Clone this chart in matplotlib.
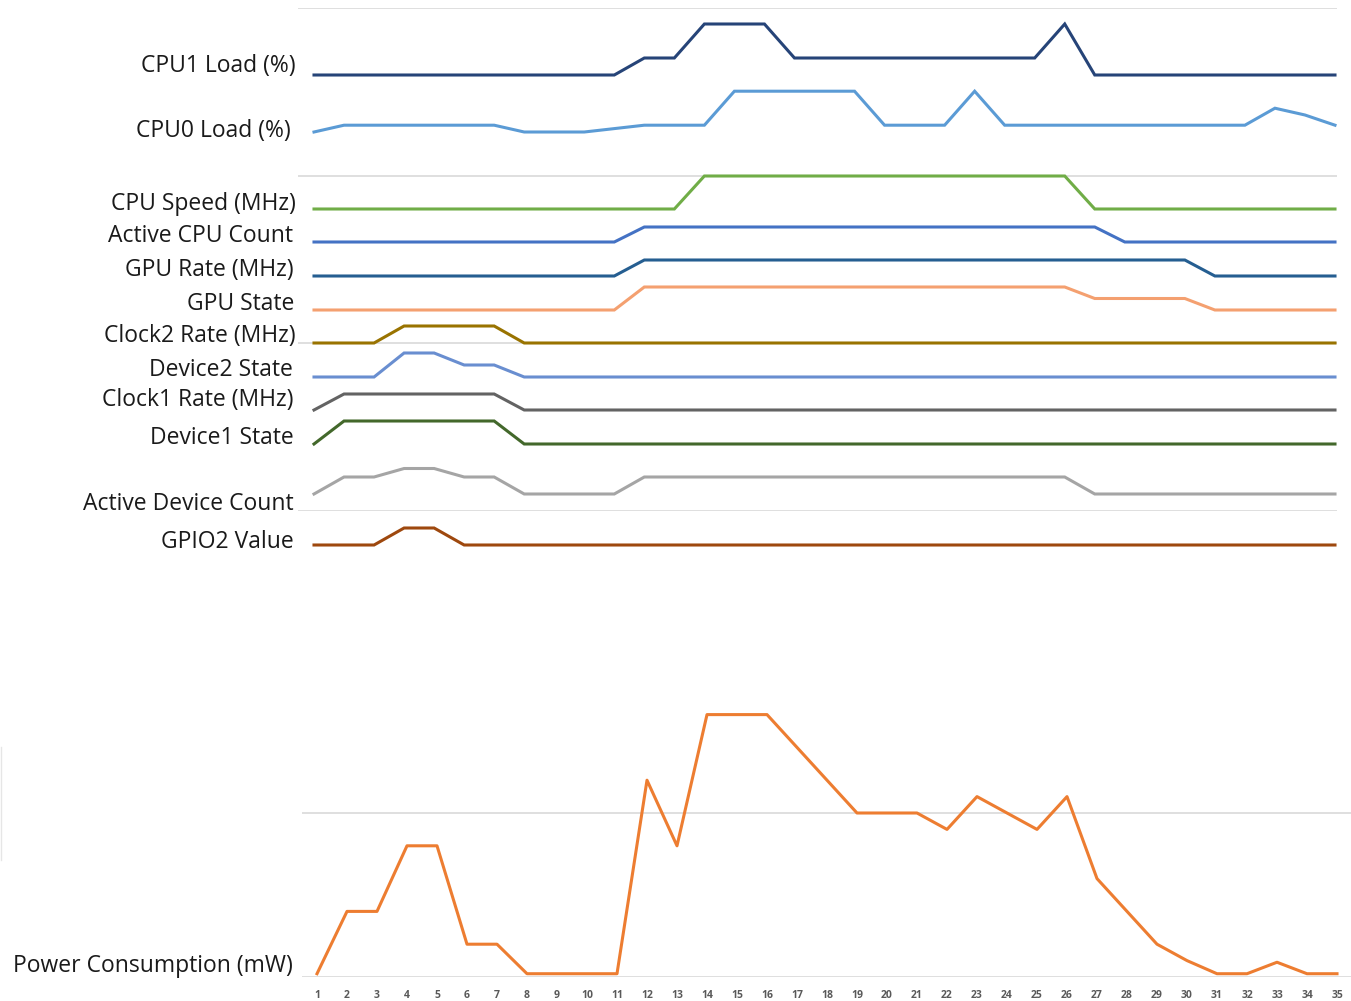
import numpy as np
import matplotlib
matplotlib.use("Agg")
import matplotlib.pyplot as plt
from matplotlib.lines import Line2D

plt.rcParams['font.family'] = ['Open Sans', 'DejaVu Sans']

# sample index 1..35
samples = np.arange(1, 36)

# signal traces (relative levels)
cpu1_load = [0]*11 + [25, 25, 75, 75, 75] + [25]*9 + [75] + [0]*9
cpu0_load = [0] + [10]*6 + [0]*3 + [5, 10, 10, 10] + [60]*5 + [10]*3 + [60] + [10]*9 + [35, 25, 10]
cpu_speed = [0]*13 + [1]*13 + [0]*9
active_cpu_count = [1]*11 + [2]*16 + [1]*8
gpu_rate = [0]*11 + [1]*19 + [0]*5
gpu_state = [0]*11 + [2]*15 + [1]*4 + [0]*5
clock2_rate = [0]*3 + [1]*4 + [0]*28
device2_state = [0]*3 + [2, 2, 1, 1] + [0]*28
clock1_rate = [0] + [1]*6 + [0]*28
device1_state = [0] + [1]*6 + [0]*28
active_device_count = [1, 3, 3, 4, 4, 3, 3] + [1]*4 + [3]*15 + [1]*9
gpio2_value = [0]*3 + [1, 1] + [0]*30

power_mw = [2, 40, 40, 80, 80, 20, 20, 2, 2, 2, 2, 120, 80, 160, 160, 160,
            140, 120, 100, 100, 100, 90, 110, 100, 90, 110, 60, 40, 20, 10,
            2, 2, 9, 2, 2]

# label, values, baseline row, pixels per unit, colour, label row, label right edge
signals = [
    ("CPU1 Load (%)", cpu1_load, 75, 0.68, "#264478", 64, 296),
    ("CPU0 Load (%)", cpu0_load, 132, 0.68, "#5B9BD5", 129, 291),
    ("CPU Speed (MHz)", cpu_speed, 209, 33, "#70AD47", 202, 296),
    ("Active CPU Count", active_cpu_count, 257, 15, "#4472C4", 234, 293),
    ("GPU Rate (MHz)", gpu_rate, 276, 16, "#255E91", 268, 294),
    ("GPU State", gpu_state, 310, 11.5, "#F4A070", 302, 294),
    ("Clock2 Rate (MHz)", clock2_rate, 343, 17, "#997300", 334, 296),
    ("Device2 State", device2_state, 377, 12, "#698ED0", 368, 293),
    ("Clock1 Rate (MHz)", clock1_rate, 410, 16, "#636363", 398, 293),
    ("Device1 State", device1_state, 444, 23, "#43682B", 436, 294),
    ("Active Device Count", active_device_count, 502.5, 8.5, "#A5A5A5", 502, 294),
    ("GPIO2 Value", gpio2_value, 545, 17, "#9E480E", 540, 294),
]

W, H = 1351, 1001
fig = plt.figure(figsize=(W / 100, H / 100), dpi=100)
label_size = 16.5

# ---- top panel: stacked signal traces ----
ax = fig.add_axes([298 / W, 1 - 511 / H, (1337 - 298) / W, (511 - 8) / H])
step = (1335 - 314) / 34
ax.set_xlim(1 - 16 / step, 35 + 2 / step)
ax.set_ylim(511, 8)
for gy in [8, 176, 343, 511]:
    ax.axhline(gy, color="#D9D9D9", lw=1.2, zorder=0)
for label, vals, base, scale, col, ty, tx in signals:
    y = base - np.array(vals) * scale
    ax.plot(samples, y, color=col, lw=2.2, solid_joinstyle='miter', clip_on=False)
    fig.text(tx / W, 1 - (ty + 2) / H, label, ha='right', va='center',
             fontsize=label_size, color="#1a1a1a")
ax.axis('off')

# ---- bottom panel: power consumption ----
ax2 = fig.add_axes([302 / W, 1 - 977 / H, (1352 - 302) / W, (977 - 649) / H])
ax2.plot(samples, power_mw, color="#ED7D31", lw=2.2, clip_on=False)
ax2.set_xlim(0.5, 35.5)
ax2.set_ylim(0, 200)
ax2.set_yticks([0, 100])
ax2.yaxis.grid(True, color="#D9D9D9", lw=1.2)
ax2.set_axisbelow(True)
ax2.tick_params(axis='y', left=False, labelleft=False)
ax2.set_xticks(samples)
ax2.set_xticklabels([str(s) for s in samples], fontsize=7.5, color="#595959",
                    fontweight='bold')
ax2.tick_params(axis='x', length=0, pad=9)
for sp in ax2.spines.values():
    sp.set_visible(False)
fig.text(293 / W, 1 - 966 / H, "Power Consumption (mW)", ha='right', va='center',
         fontsize=label_size, color="#1a1a1a")

# faint stray edge line at the far left
fig.add_artist(Line2D([0.5 / W, 0.5 / W], [1 - 747 / H, 1 - 860 / H],
                      color="#E6E6E6", lw=1))

fig.savefig("out.png", dpi=100)
